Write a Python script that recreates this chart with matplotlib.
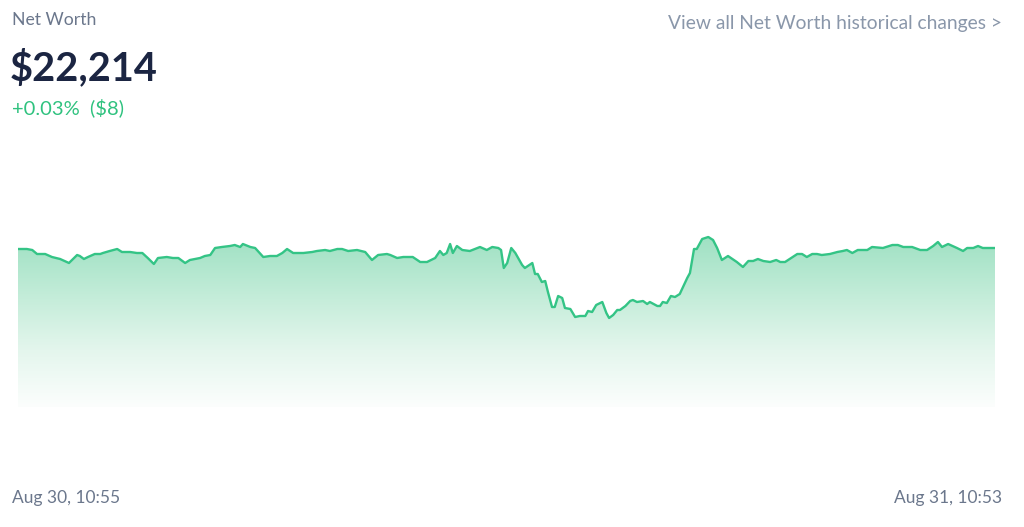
import matplotlib
matplotlib.use("Agg")
import matplotlib.pyplot as plt
import numpy as np
from matplotlib.colors import LinearSegmentedColormap

plt.rcParams['font.family'] = ['Lato', 'DejaVu Sans']

# minutes since Aug 30, 10:55 and net worth in dollars
minutes = [0, 13, 21, 28, 40, 50, 62, 75, 87, 91, 97, 103, 113, 121, 125, 135, 146, 153, 165, 175,
           183, 191, 200, 206, 219, 228, 236, 246, 253, 268, 275, 283, 290, 300, 312, 319, 327, 331, 342, 349,
           361, 371, 381, 389, 396, 405, 420, 433, 440, 452, 459, 470, 477, 486, 499, 511, 521, 530, 543, 548,
           558, 567, 574, 581, 592, 602, 614, 621, 626, 631, 636, 640, 646, 654, 665, 680, 690, 698, 707, 711,
           715, 720, 726, 732, 742, 746, 757, 761, 765, 771, 776, 780, 786, 790, 795, 801, 805, 813, 820, 827,
           835, 839, 845, 851, 860, 866, 870, 876, 882, 886, 894, 901, 905, 911, 920, 926, 930, 941, 945, 949,
           955, 961, 967, 974, 985, 989, 995, 999, 1007, 1016, 1023, 1029, 1036, 1045, 1058, 1067, 1075, 1082, 1089, 1097,
           1107, 1116, 1122, 1129, 1147, 1154, 1161, 1169, 1176, 1183, 1195, 1206, 1214, 1220, 1228, 1236, 1250, 1257, 1273, 1287,
           1295, 1303, 1316, 1328, 1338, 1347, 1354, 1360, 1369, 1382, 1391, 1397, 1406, 1413, 1420, 1438]
net_worth = [22210, 22210, 22206, 22190, 22190, 22178, 22170, 22154, 22186, 22182, 22170, 22178, 22190, 22190, 22194, 22202, 22210, 22198, 22198, 22194,
             22194, 22174, 22150, 22174, 22178, 22174, 22174, 22154, 22166, 22174, 22182, 22186, 22214, 22218, 22222, 22226, 22218, 22230, 22218, 22214,
             22178, 22182, 22182, 22194, 22210, 22194, 22194, 22198, 22202, 22206, 22202, 22210, 22210, 22202, 22206, 22198, 22166, 22186, 22190, 22186,
             22174, 22178, 22178, 22178, 22158, 22158, 22174, 22202, 22186, 22194, 22230, 22194, 22222, 22206, 22202, 22218, 22206, 22218, 22214, 22206,
             22134, 22154, 22214, 22194, 22146, 22134, 22154, 22110, 22110, 22078, 22082, 22038, 21978, 21978, 22022, 22014, 21974, 21970, 21938, 21942,
             21942, 21962, 21958, 21986, 21998, 21954, 21934, 21946, 21966, 21966, 21982, 22002, 22006, 21998, 22002, 21990, 21998, 21982, 21982, 21998,
             21994, 22022, 22018, 22030, 22094, 22114, 22210, 22210, 22250, 22258, 22246, 22214, 22166, 22182, 22158, 22138, 22162, 22162, 22170, 22162,
             22158, 22166, 22158, 22158, 22190, 22190, 22178, 22190, 22190, 22186, 22190, 22198, 22202, 22206, 22194, 22206, 22206, 22218, 22214, 22226,
             22226, 22218, 22218, 22206, 22206, 22222, 22238, 22218, 22230, 22214, 22202, 22214, 22214, 22222, 22214, 22214]

title = "Net Worth"
current_value = "$22,214"
change_text = "+0.03%  ($8)"
link_text = "View all Net Worth historical changes >"
start_label = "Aug 30, 10:55"
end_label = "Aug 31, 10:53"

line_color = "#34c486"

fig = plt.figure(figsize=(10.24, 5.27), dpi=100)
ax = fig.add_axes([18 / 1024, 120 / 527, 977 / 1024, 277 / 527])
ymin, ymax = 21578, 22686
ax.set_xlim(0, 1438)
ax.set_ylim(ymin, ymax)
ax.axis("off")

# gradient fill under the line
poly = ax.fill_between(minutes, net_worth, ymin, color="none", lw=0)
cmap = LinearSegmentedColormap.from_list("g", ["#fcfefd", "#e4f6ed", "#c2ecd8", "#9fe1c3"])
grad = np.linspace(0, 1, 256).reshape(-1, 1)
top = max(net_worth)
img = ax.imshow(grad, cmap=cmap, aspect="auto", origin="lower",
                extent=[0, 1438, ymin, top], zorder=1)
img.set_clip_path(poly.get_paths()[0], transform=ax.transData)
ax.plot(minutes, net_worth, color=line_color, lw=1.7, zorder=3, solid_joinstyle="round")

fig.text(12 / 1024, 1 - 20 / 527, title, fontsize=12.7, color="#6b778c", va="center", ha="left")
fig.text(10 / 1024, 1 - 68 / 527, current_value, fontsize=28.6, fontweight="bold",
         color="#1b2542", va="center", ha="left")
fig.text(12 / 1024, 1 - 108 / 527, change_text, fontsize=14.5, color="#2fc27f", va="center", ha="left")
fig.text(1002 / 1024, 1 - 24 / 527, link_text, fontsize=13.9, color="#8a97aa", va="center", ha="right")
fig.text(12 / 1024, 1 - 498 / 527, start_label, fontsize=12.5, color="#6b778c", va="center", ha="left")
fig.text(1002 / 1024, 1 - 498 / 527, end_label, fontsize=12.5, color="#6b778c", va="center", ha="right")

fig.savefig("out.png", dpi=100, facecolor="white")
